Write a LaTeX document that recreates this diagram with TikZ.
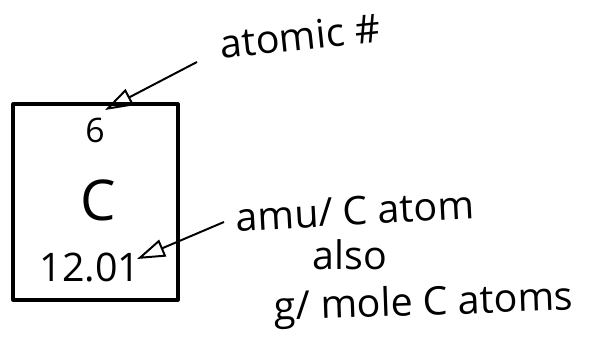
\documentclass[tikz,border=0pt]{standalone}
\usepackage{fontspec}
\setmainfont{Open Sans}
\usetikzlibrary{positioning,arrows.meta,calc}
\definecolor{ink}{HTML}{000000}

\begin{document}
\begin{tikzpicture}[
  x=0.025cm, y=-0.025cm,
  font=\color{ink},
  cell/.style={draw=ink, line width=2.2pt, line join=round},
  entry/.style={inner sep=0pt, font=\fontsize{28}{30}\selectfont},
  symbol/.style={inner sep=0pt, font=\fontsize{40}{44}\selectfont},
  note/.style={inner sep=0pt, align=center, font=\fontsize{28}{30}\selectfont},
  pointer/.style={-{Triangle[open, length=7mm, width=4.5mm, line width=1.4pt]},
                  line width=1.4pt, draw=ink},
]
\useasboundingbox (0,0) rectangle (589,346);

% ---- Element cell -----------------------------------------------------------
\draw[cell] (13,104) rectangle (178,300);
\node[entry, font=\fontsize{24}{26}\selectfont] (number) at (95,130) {6};
\node[symbol] (sym) at (98,200) {C};
\node[entry] (mass) at (90,268) {12.01};

% ---- Notes ------------------------------------------------------------------
\node[note, rotate=6] (numnote) at (300,36) {atomic \#};
\node[note, rotate=3] (massnote) at (355,211) {amu/ C atom};
\node[note] (also) at (350,255) {also};
\node[note, rotate=2] (molnote) at (424,305) {g/ mole C atoms};

% ---- Arrows -----------------------------------------------------------------
\coordinate (numtail) at (197,62);
\coordinate (numtip) at (105,110);
\coordinate (masstail) at (224,222);
\coordinate (masstip) at (137,259);
\draw[pointer] (numtail) -- (numtip);
\draw[pointer] (masstail) -- (masstip);

\end{tikzpicture}
\end{document}
